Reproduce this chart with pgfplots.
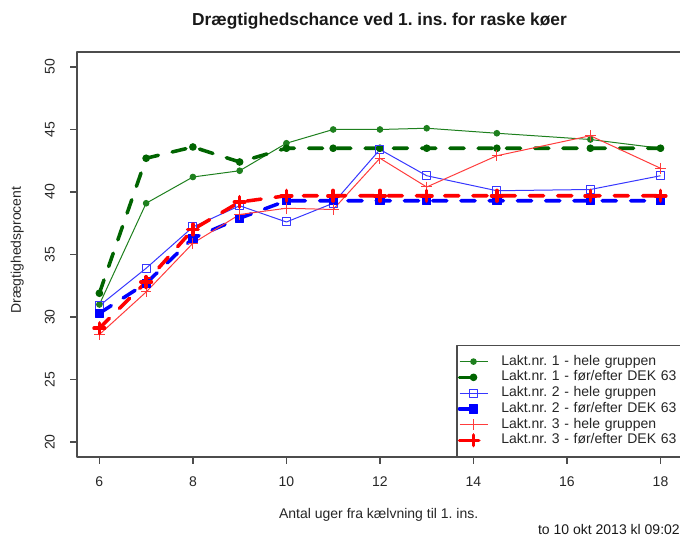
\documentclass[border=0pt]{standalone}
\usepackage{fontspec}
\setmainfont{Liberation Sans}
\usepackage{pgfplots}
\pgfplotsset{compat=1.18}
\definecolor{darkgreen}{RGB}{0,100,0}
\definecolor{thingreen}{RGB}{30,128,30}
\definecolor{rblue}{RGB}{0,0,255}
\definecolor{thinblue}{RGB}{55,55,255}
\definecolor{rred}{RGB}{255,0,0}
\definecolor{thinred}{RGB}{255,60,60}
\newcommand\rfont{\fontsize{10.5pt}{12pt}\selectfont}
\frenchspacing

% one series per table: uger, procent
\pgfplotstableread{
x y
6 31.0
7 39.1
8 41.2
9 41.7
10 43.9
11 45.0
12 45.0
13 45.1
14.5 44.7
16.5 44.2
18 43.5
}\laktEenHele
\pgfplotstableread{
x y
6 31.9
7 42.7
8 43.6
9 42.4
10 43.5
11 43.5
12 43.5
13 43.5
14.5 43.5
16.5 43.5
18 43.5
}\laktEenDek
\pgfplotstableread{
x y
6 30.9
7 33.9
8 37.2
9 38.9
10 37.6
11 39.1
12 43.4
13 41.3
14.5 40.1
16.5 40.2
18 41.3
}\laktToHele
\pgfplotstableread{
x y
6 30.3
7 32.7
8 36.3
9 37.9
10 39.3
11 39.3
12 39.3
13 39.3
14.5 39.3
16.5 39.3
18 39.3
}\laktToDek
\pgfplotstableread{
x y
6 28.6
7 32.0
8 35.9
9 38.2
10 38.7
11 38.6
12 42.7
13 40.4
14.5 42.9
16.5 44.5
18 41.9
}\laktTreHele
\pgfplotstableread{
x y
6 29.1
7 32.8
8 37.0
9 39.2
10 39.7
11 39.7
12 39.7
13 39.7
14.5 39.7
16.5 39.7
18 39.7
}\laktTreDek

\begin{document}
\begin{tikzpicture}
\path[use as bounding box] (0,0) rectangle (510pt,401.25pt);
\begin{axis}[
    at={(57.7pt,58.5pt)}, anchor=south west,
    scale only axis, width=454.5pt, height=303.75pt,
    xmin=5.52, xmax=18.48, ymin=18.8, ymax=51.2,
    xtick={6,8,...,18}, ytick={20,25,...,50},
    xtick pos=lower, ytick pos=left,
    tick align=outside, major tick length=5pt,
    axis line style={black!70, line width=0.9pt},
    tick style={black!70, line width=0.9pt},
    /pgf/number format/assume math mode=true,
    tick label style={font=\rfont, text=black!85, inner sep=0pt},
    xticklabel style={anchor=north},
    xticklabel shift=9.8pt,
    yticklabel style={rotate=90, anchor=south},
    yticklabel shift=11.5pt,
    line join=round,
    legend cell align=left,
    legend style={at={(1,0)}, anchor=south east, draw=black!70,
        line width=0.9pt, fill=white, inner xsep=0.5pt, inner ysep=6.2pt,
        font=\rfont, text=black!85, row sep=0pt,
        nodes={inner xsep=0pt, inner ysep=1pt, text height=7.6pt,
            text depth=2.2pt, text width=135.3pt, align=left}},
    legend image code/.code={
        \draw[mark repeat=2, mark phase=2, #1]
            plot coordinates {(1.3pt,0pt) (11.8pt,0pt) (22.3pt,0pt)};
        \path (31.3pt,0pt);
    },
]
\addplot[color=thingreen, line width=0.75pt, mark=*, mark size=2.1pt,
    mark options={solid, draw=thingreen, fill=thingreen}] table {\laktEenHele};
\addlegendentry{Lakt.nr. 1 - hele gruppen}
\addplot[color=darkgreen, line width=2.65pt, line cap=round,
    dash pattern=on 10.6pt off 10.6pt, mark=*, mark size=2.4pt,
    mark options={solid, line width=0.9pt, draw=darkgreen, fill=darkgreen}]
    table {\laktEenDek};
\addlegendentry{Lakt.nr. 1 - før/efter DEK 63}
\addplot[color=thinblue, line width=0.75pt, mark=square, mark size=3pt,
    mark options={solid, draw=thinblue}] table {\laktToHele};
\addlegendentry{Lakt.nr. 2 - hele gruppen}
\addplot[color=rblue, line width=2.65pt, line cap=round,
    dash pattern=on 10.6pt off 10.6pt, mark=square*, mark size=3.1pt,
    mark options={solid, line width=0.6pt, draw=rblue, fill=rblue}]
    table {\laktToDek};
\addlegendentry{Lakt.nr. 2 - før/efter DEK 63}
\addplot[color=thinred, line width=0.75pt, mark=+, mark size=4pt,
    mark options={solid, draw=thinred}] table {\laktTreHele};
\addlegendentry{Lakt.nr. 3 - hele gruppen}
\addplot[color=rred, line width=2.65pt, line cap=round,
    dash pattern=on 10.6pt off 10.6pt, mark=+, mark size=4pt,
    mark options={solid, draw=rred}] table {\laktTreDek};
\addlegendentry{Lakt.nr. 3 - før/efter DEK 63}
\end{axis}
\node[font=\bfseries\fontsize{13pt}{15pt}\selectfont, text=black!90]
    at (284.6pt,385.5pt) {Drægtighedschance ved 1. ins. for raske køer};
\node[font=\rfont, text=black!85] at (284pt,15pt)
    {Antal uger fra kælvning til 1. ins.};
\node[font=\rfont, text=black!85, rotate=90] at (13pt,213.75pt)
    {Drægtighedsprocent};
\node[font=\rfont, text=black!90, anchor=east, inner sep=0pt]
    at (510pt,4.5pt) {to 10 okt 2013 kl 09:02};
\end{tikzpicture}
\end{document}
